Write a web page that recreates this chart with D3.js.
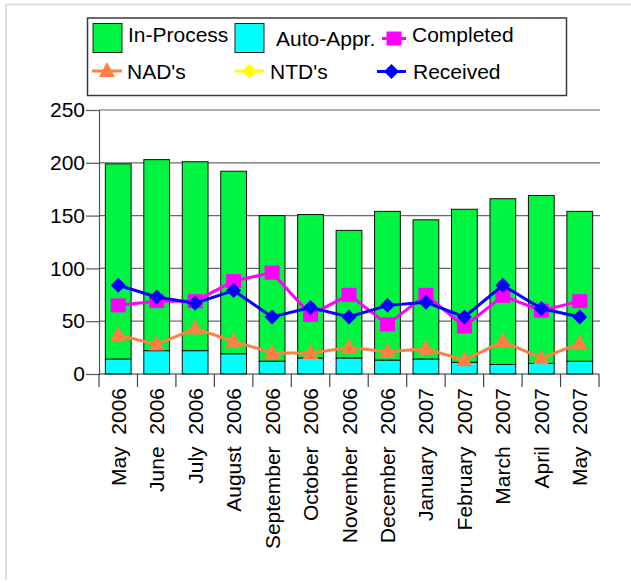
<!DOCTYPE html>
<html>
<head>
<meta charset="utf-8">
<script src="https://cdn.jsdelivr.net/npm/d3@7"></script>
<style>
	body { margin: 0; background: #fff; }
	svg { display: block; font-family: "Liberation Sans", Arial, sans-serif; }
	text { white-space: pre; }
</style>
</head>
<body>
<div class="svg-container"></div>
<script>
(function () {

	"use strict";

	// chart data
	var months = ["May  2006", "June  2006", "July  2006", "August  2006", "September  2006", "October  2006",
		"November  2006", "December  2006", "January  2007", "February  2007", "March  2007", "April  2007", "May  2007"];
	var autoAppr = [14, 22, 22, 19, 12, 15, 15, 13, 14, 11, 9, 10, 12];
	var inProcess = [185, 181, 179, 173, 138, 136, 121, 141, 132, 145, 157, 159, 142];
	var completed = [65, 69, 69, 88, 96, 56, 75, 47, 75, 45, 74, 60, 69];
	var nads = [37, 28, 43, 31, 20, 20, 25, 21, 24, 13, 31, 15, 29];
	var ntds = [null, null, null, null, null, null, null, null, null, null, null, null, null];
	var received = [84, 73, 67, 79, 54, 63, 54, 65, 68, 54, 84, 62, 54];
	var yTicks = [0, 50, 100, 150, 200, 250];

	var W = 631, H = 583;
	var margin = { "top": 110, "right": 32, "bottom": 209, "left": 99 };
	var width = W - margin.left - margin.right,
		height = H - margin.top - margin.bottom;

	var svg = d3.select(".svg-container").append("svg")
		.attr("width", W)
		.attr("height", H);

	// outer frame (left and top edges only show)
	svg.append("path")
		.attr("d", "M6,580V4.5H631")
		.attr("fill", "none")
		.attr("stroke", "#d4d4d4")
		.attr("stroke-width", 1.5);

	var g = svg.append("g")
		.attr("transform", "translate(" + margin.left + "," + margin.top + ")");

	var x = d3.scaleBand()
		.domain(months)
		.range([0, width])
		.paddingInner(0.33)
		.paddingOuter(0.165);

	var y = d3.scaleLinear()
		.domain([0, 250])
		.range([height, 0]);

	// gridlines
	g.selectAll(".grid")
		.data(yTicks.slice(1))
		.enter()
		.append("line")
		.attr("x1", 0)
		.attr("x2", width + 1)
		.attr("y1", function (d) { return y(d); })
		.attr("y2", function (d) { return y(d); })
		.attr("stroke", "#6a6a6a")
		.attr("stroke-width", 1.2);

	// y axis
	var yAxis = g.append("g")
		.call(d3.axisLeft(y).tickValues(yTicks).tickSize(13).tickPadding(1));
	yAxis.select(".domain").attr("stroke", "#555").attr("stroke-width", 1.2);
	yAxis.selectAll(".tick line").attr("stroke", "#555").attr("stroke-width", 1.2);
	yAxis.selectAll(".tick text")
		.attr("fill", "#000")
		.style("font-size", "21px")
		.style("font-family", "'Liberation Sans', Arial, sans-serif");

	// stacked bars
	var rows = months.map(function (m, i) { return { "m": m, "a": autoAppr[i], "p": inProcess[i] }; });

	var bars = g.selectAll(".bar")
		.data(rows)
		.enter()
		.append("g")
		.attr("class", "bar");

	bars.append("rect")
		.attr("x", function (d) { return x(d.m); })
		.attr("width", x.bandwidth())
		.attr("y", function (d) { return y(d.a + d.p); })
		.attr("height", function (d) { return y(d.a) - y(d.a + d.p); })
		.attr("fill", "#00f442")
		.attr("stroke", "#111")
		.attr("stroke-width", 1);

	bars.append("rect")
		.attr("x", function (d) { return x(d.m); })
		.attr("width", x.bandwidth())
		.attr("y", function (d) { return y(d.a); })
		.attr("height", function (d) { return y(0) - y(d.a); })
		.attr("fill", "#00ffff")
		.attr("stroke", "#111")
		.attr("stroke-width", 1);

	// x axis line + ticks at category boundaries
	g.append("line")
		.attr("x1", 0).attr("x2", width)
		.attr("y1", height).attr("y2", height)
		.attr("stroke", "#333").attr("stroke-width", 1.2);

	g.selectAll(".xtick")
		.data(d3.range(months.length + 1))
		.enter()
		.append("line")
		.attr("x1", function (d) { return d * x.step(); })
		.attr("x2", function (d) { return d * x.step(); })
		.attr("y1", height)
		.attr("y2", height + 13)
		.attr("stroke", "#444")
		.attr("stroke-width", 1.2);

	g.selectAll(".xlabel")
		.data(months)
		.enter()
		.append("text")
		.attr("transform", function (d) {
			return "translate(" + (x(d) + x.bandwidth() / 2) + "," + (height + 14) + ") rotate(-90)";
		})
		.attr("dy", "0.36em")
		.attr("text-anchor", "end")
		.style("font-size", "21px")
		.text(function (d) { return d; });

	// line series
	var cx = function (d, i) { return x(months[i]) + x.bandwidth() / 2; };
	var line = d3.line()
		.defined(function (d) { return d != null; })
		.x(cx)
		.y(function (d) { return y(d); });

	var series = [
		{ "name": "NAD's", "values": nads, "color": "#ff8040", "shape": "triangle" },
		{ "name": "NTD's", "values": ntds, "color": "#ffff00", "shape": "diamond" },
		{ "name": "Completed", "values": completed, "color": "#ff00ff", "shape": "square" },
		{ "name": "Received", "values": received, "color": "#0000ff", "shape": "diamond" }
	];

	function marker(sel, shape, color) {
		if (shape === "square") {
			sel.append("rect").attr("x", -7.5).attr("y", -7).attr("width", 15).attr("height", 14)
				.attr("fill", color);
		} else if (shape === "diamond") {
			sel.append("path").attr("d", "M0,-7.5L7.5,0L0,7.5L-7.5,0Z").attr("fill", color);
		} else {
			sel.append("path").attr("d", "M0,-9L8,6L-8,6Z").attr("fill", color);
		}
	}

	series.forEach(function (s) {
		g.append("path")
			.attr("d", line(s.values))
			.attr("fill", "none")
			.attr("stroke", s.color)
			.attr("stroke-width", 3);

		var pts = s.values.map(function (v, i) { return { "v": v, "i": i }; })
			.filter(function (d) { return d.v != null; });

		g.selectAll(null)
			.data(pts)
			.enter()
			.append("g")
			.attr("transform", function (d) { return "translate(" + cx(d.v, d.i) + "," + y(d.v) + ")"; })
			.each(function () { marker(d3.select(this), s.shape, s.color); });
	});

	// legend
	var legend = svg.append("g");
	legend.append("rect")
		.attr("x", 87.5).attr("y", 18)
		.attr("width", 479).attr("height", 77.5)
		.attr("fill", "#fff")
		.attr("stroke", "#3a3a3a")
		.attr("stroke-width", 1.5);

	var boxes = [
		{ "label": "In-Process", "color": "#00f442", "x": 93, "tx": 128, "ty": 42 },
		{ "label": "Auto-Appr.", "color": "#00ffff", "x": 235, "tx": 276, "ty": 46 }
	];
	boxes.forEach(function (b) {
		legend.append("rect")
			.attr("x", b.x).attr("y", 23.5)
			.attr("width", 29).attr("height", 29)
			.attr("fill", b.color)
			.attr("stroke", "#222")
			.attr("stroke-width", 1);
		legend.append("text")
			.attr("x", b.tx).attr("y", b.ty)
			.style("font-size", "21px")
			.text(b.label);
	});

	var lineKeys = [
		{ "s": series[2], "x1": 382, "x2": 406, "y": 38.5, "tx": 412, "ty": 42 },
		{ "s": series[0], "x1": 92, "x2": 122, "y": 71, "tx": 127, "ty": 78.5 },
		{ "s": series[1], "x1": 235, "x2": 264, "y": 71, "tx": 270, "ty": 78.5 },
		{ "s": series[3], "x1": 377, "x2": 406, "y": 71.5, "tx": 413, "ty": 78.5 }
	];
	lineKeys.forEach(function (k) {
		legend.append("line")
			.attr("x1", k.x1).attr("x2", k.x2)
			.attr("y1", k.y).attr("y2", k.y)
			.attr("stroke", k.s.color)
			.attr("stroke-width", 3);
		var mk = legend.append("g")
			.attr("transform", "translate(" + ((k.x1 + k.x2) / 2) + "," + k.y + ")");
		marker(mk, k.s.shape, k.s.color);
		legend.append("text")
			.attr("x", k.tx).attr("y", k.ty)
			.style("font-size", "21px")
			.text(k.s.name);
	});

})();
</script>
</body>
</html>
